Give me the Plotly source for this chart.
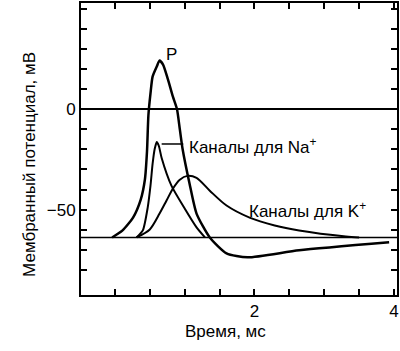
import plotly.graph_objects as go

# Time (ms) and membrane potential (mV)
p_t = [-0.04, 0.11, 0.26, 0.37, 0.43, 0.46, 0.48, 0.51, 0.54, 0.60, 0.64, 0.69, 0.76, 0.83, 0.89, 0.93, 0.97, 1.07, 1.17, 1.36, 1.60, 1.90, 2.64, 3.93]
p_v = [-63.9, -60.4, -54.0, -45.0, -35.0, -21.0, -3.0, 7.9, 16.3, 21.3, 24.3, 22.3, 14.9, 6.4, 0.0, -9.9, -19.8, -37.1, -52.0, -63.9, -71.8, -73.8, -70.3, -66.3]

na_t = [0.31, 0.40, 0.47, 0.51, 0.54, 0.57, 0.60, 0.63, 0.67, 0.81, 1.00, 1.17, 1.29]
na_v = [-63.9, -60.4, -49.0, -38.1, -27.2, -19.8, -16.3, -18.3, -24.3, -38.1, -49.5, -58.9, -63.9]

k_t = [0.31, 0.50, 0.64, 0.74, 0.83, 0.93, 1.04, 1.17, 1.36, 1.60, 1.93, 2.29, 2.64, 3.31, 3.50]
k_v = [-63.9, -59.9, -52.0, -45.5, -39.6, -35.1, -33.2, -34.2, -40.6, -48.0, -54.0, -57.9, -60.4, -63.4, -63.9]

rest_v = -63.9
y_tickvals = [50, 40, 30, 20, 10, 0, -10, -20, -30, -40, -50, -60, -70, -80]
y_ticktext = ["", "", "", "", "", "0", "", "", "", "", "−50", "", "", ""]
x_tickvals = [0, 0.5, 1, 1.5, 2, 2.5, 3, 3.5, 4]
x_ticktext = ["", "", "", "", "2", "", "", "", "4"]

label_p = "P"
label_na = "Каналы для Na<sup>+</sup>"
label_k = "Каналы для K<sup>+</sup>"
x_title = "Время, мс"
y_title = "Мембранный потенциал, мВ"

FONT = "Liberation Sans"

fig = go.Figure()
fig.add_trace(go.Scatter(x=p_t, y=p_v, mode="lines",
                         line=dict(color="black", width=2.5, shape="spline", smoothing=0.6)))
fig.add_trace(go.Scatter(x=na_t, y=na_v, mode="lines",
                         line=dict(color="black", width=2, shape="spline", smoothing=0.6)))
fig.add_trace(go.Scatter(x=k_t, y=k_v, mode="lines",
                         line=dict(color="black", width=2, shape="spline", smoothing=0.8)))

# resting potential line
fig.add_shape(type="line", xref="paper", x0=0, x1=1, yref="y", y0=rest_v, y1=rest_v,
              line=dict(color="black", width=1.5))
# leader line for Na label
fig.add_shape(type="line", xref="x", yref="y", x0=na_t[7] + 0.04, x1=na_t[10] - 0.02,
              y0=na_v[6] - 1, y1=na_v[6] - 1, line=dict(color="black", width=1.5))

fig.add_annotation(x=p_t[12] + 0.05, y=p_v[10] + 3, text=label_p, showarrow=False,
                   font=dict(size=17, color="black", family=FONT), xanchor="center", yanchor="middle")
fig.add_annotation(x=na_t[10] + 0.04, y=na_v[6] - 2, text=label_na, showarrow=False,
                   font=dict(size=17, color="black", family=FONT), xanchor="left", yanchor="middle")
fig.add_annotation(x=k_t[10] - 0.03, y=k_v[10] + 4, text=label_k, showarrow=False,
                   font=dict(size=17, color="black", family=FONT), xanchor="left", yanchor="middle")

# axis titles
fig.add_annotation(xref="paper", yref="paper", x=0.457, y=-0.126, text=x_title, showarrow=False,
                   font=dict(size=17, color="black", family=FONT), xanchor="center", yanchor="middle")
fig.add_annotation(xref="paper", yref="paper", x=-0.161, y=0.446, text=y_title, showarrow=False,
                   textangle=-90,
                   font=dict(size=17, color="black", family=FONT), xanchor="center", yanchor="middle")

fig.update_layout(
    width=400, height=351,
    margin=dict(l=81, r=2, t=1, b=56),
    paper_bgcolor="white", plot_bgcolor="white",
    showlegend=False,
    font=dict(family=FONT, color="black", size=16),
)
fig.update_xaxes(range=[-0.486, 4.043], showgrid=False, zeroline=False,
                 showline=True, linecolor="black", linewidth=2, mirror="allticks",
                 ticks="inside", ticklen=6, tickwidth=1.5, tickcolor="black",
                 tickvals=x_tickvals, ticktext=x_ticktext,
                 tickfont=dict(size=17, family=FONT))
fig.update_yaxes(range=[-92.6, 53], showgrid=False,
                 zeroline=True, zerolinecolor="black", zerolinewidth=2,
                 showline=True, linecolor="black", linewidth=2, mirror="allticks",
                 ticks="inside", ticklen=6, tickwidth=1.5, tickcolor="black",
                 tickvals=y_tickvals, ticktext=y_ticktext,
                 tickfont=dict(size=17, family=FONT))

fig.write_html("out.html")
